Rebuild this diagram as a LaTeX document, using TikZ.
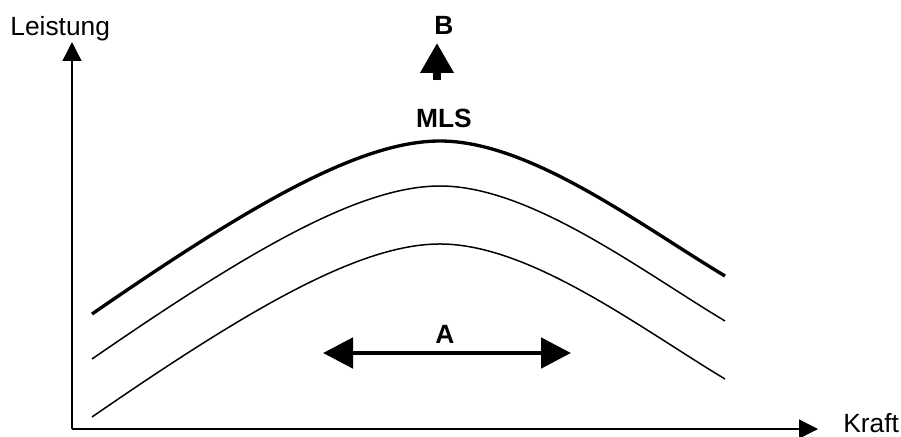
\documentclass[tikz,border=0pt]{standalone}
\usepackage{fontspec}
\setmainfont{Liberation Sans}
\usetikzlibrary{arrows.meta}
\tikzset{
  achse/.style  = {line width=0.75pt, -{Triangle[length=0.38cm, width=0.38cm]}},
  kurve/.style  = {line width=0.85pt},
  mlskurve/.style = {line width=1.9pt},
  pfeilA/.style = {line width=2.8pt, {Triangle[length=0.6cm, width=0.6cm]}-{Triangle[length=0.6cm, width=0.6cm]}},
  pfeilB/.style = {line width=4pt, -{Triangle[length=0.6cm, width=0.64cm]}},
  beschr/.style = {inner sep=0pt, font=\fontsize{15}{18}\selectfont},
  fett/.style   = {inner sep=0pt, font=\fontsize{15}{18}\selectfont\bfseries},
}
\begin{document}
\begin{tikzpicture}[x=0.02cm, y=-0.02cm]
\useasboundingbox (0,0) rectangle (901,436);
% Achsen
\coordinate (o) at (72,429);
\coordinate (ytip) at (72,42);
\coordinate (xtip) at (818,429);
\draw[achse] (o) -- (ytip);
\draw[achse] (o) -- (xtip);
\node[beschr, anchor=base west] (leistung) at (10,35) {Leistung};
\node[beschr, anchor=base west] (kraft) at (843,432) {Kraft};
% Kurven
\draw[mlskurve] (92,314) .. controls (250,205) and (360,141) .. (440,141)
                 .. controls (530,141) and (640,225) .. (725,276);
\draw[kurve, yshift=-0.9cm] (92,314) .. controls (250,205) and (360,141) .. (440,141)
                 .. controls (530,141) and (640,225) .. (725,276);
\draw[kurve, yshift=-2.06cm] (92,314) .. controls (250,205) and (360,141) .. (440,141)
                 .. controls (530,141) and (640,225) .. (725,276);
\node[fett, anchor=base] (mls) at (444,127) {MLS};
% Pfeil B
\coordinate (bfuss) at (437,80);
\coordinate (bspitze) at (437,43);
\draw[pfeilB] (bfuss) -- (bspitze);
\node[fett, anchor=base] (b) at (444,34) {B};
% Pfeil A
\coordinate (alinks) at (323,353);
\coordinate (arechts) at (571,353);
\draw[pfeilA] (alinks) -- (arechts);
\node[fett, anchor=base] (a) at (445,343) {A};
\end{tikzpicture}
\end{document}
